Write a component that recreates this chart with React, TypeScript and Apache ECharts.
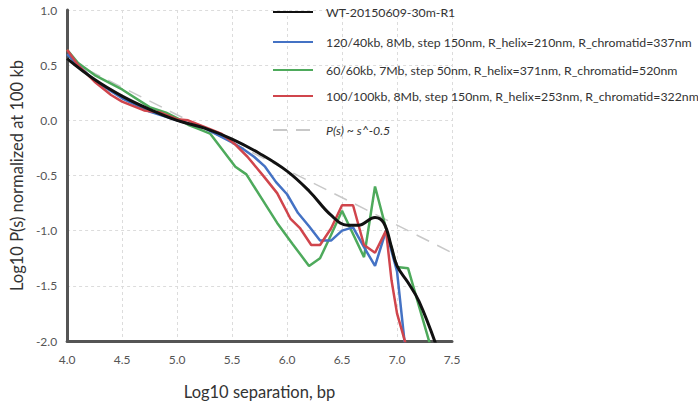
import React, { useEffect, useRef } from "react";
import * as echarts from "echarts";

const nameWT = "WT-20150609-30m-R1";
const nameBlue = "120/40kb, 8Mb, step 150nm, R_helix=210nm, R_chromatid=337nm";
const nameGreen = "60/60kb, 7Mb, step 50nm, R_helix=371nm, R_chromatid=520nm";
const nameRed = "100/100kb, 8Mb, step 150nm, R_helix=253nm, R_chromatid=322nm";
const nameRef = "P(s) ~ s^-0.5";

const wtData: [number, number][] = [
  [4.0, 0.56], [4.25, 0.37], [4.5, 0.22], [4.75, 0.1], [5.0, 0.0], [5.25, -0.07],
  [5.5, -0.17], [5.75, -0.3], [6.0, -0.46], [6.2, -0.64], [6.4, -0.86], [6.55, -0.95],
  [6.65, -0.95], [6.8, -0.88], [6.88, -0.93], [6.95, -1.15], [7.0, -1.32], [7.1, -1.47],
  [7.2, -1.64], [7.35, -2.02],
];

const blueData: [number, number][] = [
  [4.0, 0.6], [4.1, 0.5], [4.25, 0.36], [4.5, 0.2], [4.75, 0.08], [5.0, 0.0], [5.25, -0.07],
  [5.5, -0.2], [5.6, -0.26], [5.7, -0.33], [5.8, -0.42], [5.9, -0.56], [6.0, -0.67],
  [6.1, -0.84], [6.2, -0.96], [6.3, -1.09], [6.4, -1.09], [6.5, -1.0], [6.6, -0.97],
  [6.7, -1.15], [6.8, -1.32], [6.9, -1.0], [7.0, -1.37], [7.1, -2.3],
];

const greenData: [number, number][] = [
  [4.0, 0.64], [4.1, 0.52], [4.25, 0.41], [4.5, 0.28], [4.75, 0.12], [4.9, 0.07], [5.0, 0.02],
  [5.1, -0.04], [5.2, -0.08], [5.3, -0.12], [5.53, -0.42], [5.63, -0.49], [5.77, -0.71],
  [5.91, -0.93], [6.05, -1.12], [6.2, -1.32], [6.3, -1.25], [6.4, -1.04], [6.5, -0.82],
  [6.7, -1.24], [6.8, -0.6], [6.9, -0.98], [7.0, -1.33], [7.1, -1.34], [7.3, -2.03],
];

const redData: [number, number][] = [
  [4.0, 0.64], [4.1, 0.5], [4.25, 0.35], [4.4, 0.23], [4.5, 0.17], [4.7, 0.09], [4.85, 0.07],
  [5.0, 0.01], [5.1, 0.0], [5.3, -0.08], [5.4, -0.12], [5.53, -0.22], [5.64, -0.33],
  [5.79, -0.51], [5.91, -0.66], [6.03, -0.89], [6.12, -0.98], [6.22, -1.13], [6.3, -1.13],
  [6.4, -0.98], [6.5, -0.77], [6.6, -0.77], [6.7, -1.13], [6.8, -1.2], [6.9, -1.0],
  [6.95, -1.45], [7.0, -1.75], [7.1, -2.1],
];

const refData: [number, number][] = [
  [4.0, 0.55], [7.5, -1.2],
];

const FONT = "Lato";

const legendRows: { name: string; top: number; italic?: boolean }[] = [
  { name: nameWT, top: 6 },
  { name: nameBlue, top: 36 },
  { name: nameGreen, top: 64 },
  { name: nameRed, top: 90 },
  { name: nameRef, top: 124, italic: true },
];

export default function App() {
  const ref = useRef<HTMLDivElement>(null);
  useEffect(() => {
    const chart = echarts.init(ref.current!, null, { renderer: "svg" });
    chart.setOption({
      animation: false,
      backgroundColor: "#ffffff",
      textStyle: { fontFamily: FONT },
      grid: { left: 58, top: 10, right: 246, bottom: 57 },
      legend: legendRows.map((r) => ({
        data: [r.name],
        left: 272,
        top: r.top,
        padding: 0,
        itemWidth: 40,
        itemHeight: 14,
        itemGap: 14,
        itemStyle: { opacity: 0 },
        textStyle: {
          fontFamily: FONT,
          fontSize: 12.3,
          color: "#333",
          padding: [0, 0, 0, 8],
          fontStyle: r.italic ? "italic" : "normal",
        },
      })),
      xAxis: {
        type: "value",
        min: 4,
        max: 7.5,
        interval: 0.5,
        name: "Log10 separation, bp",
        nameLocation: "middle",
        nameGap: 42,
        nameTextStyle: { fontFamily: FONT, fontSize: 16.5, color: "#333" },
        axisLine: { show: true, onZero: false, lineStyle: { color: "#555", width: 3 } },
        axisTick: { show: false },
        axisLabel: {
          formatter: (v: number) => v.toFixed(1),
          fontSize: 12,
          color: "#555",
          margin: 12,
          fontFamily: FONT,
        },
        splitLine: { show: true, lineStyle: { color: "#dcdcdc", type: [3, 3], width: 1 } },
      },
      yAxis: {
        type: "value",
        min: -2,
        max: 1,
        interval: 0.5,
        name: "Log10 P(s) normalized at 100 kb",
        nameLocation: "middle",
        nameGap: 39,
        nameTextStyle: { fontFamily: FONT, fontSize: 16.5, color: "#333" },
        axisLine: { show: true, onZero: false, lineStyle: { color: "#555", width: 3 } },
        axisTick: { show: false },
        axisLabel: {
          formatter: (v: number) => v.toFixed(1),
          fontSize: 12,
          color: "#555",
          margin: 10,
          fontFamily: FONT,
        },
        splitLine: { show: true, lineStyle: { color: "#dcdcdc", type: [3, 3], width: 1 } },
      },
      series: [
        {
          name: nameRef,
          type: "line",
          data: refData,
          symbol: "none",
          lineStyle: { color: "#c8c8c8", width: 1.5, type: [14, 9] },
          itemStyle: { color: "#c8c8c8" },
        },
        {
          name: nameGreen,
          type: "line",
          data: greenData,
          symbol: "none",
          lineStyle: { color: "#4eaa5c", width: 2.5 },
          itemStyle: { color: "#4eaa5c" },
        },
        {
          name: nameBlue,
          type: "line",
          data: blueData,
          symbol: "none",
          lineStyle: { color: "#4472c4", width: 2.5 },
          itemStyle: { color: "#4472c4" },
        },
        {
          name: nameRed,
          type: "line",
          data: redData,
          symbol: "none",
          lineStyle: { color: "#d0454c", width: 2.5 },
          itemStyle: { color: "#d0454c" },
        },
        {
          name: nameWT,
          type: "line",
          data: wtData,
          symbol: "none",
          smooth: 0.4,
          lineStyle: { color: "#111", width: 3 },
          itemStyle: { color: "#111" },
        },
      ],
    });
    return () => chart.dispose();
  }, []);
  return (
    <div
      ref={ref}
      style={{ position: "fixed", left: 0, top: 0, width: 698, height: 405 }}
    />
  );
}
